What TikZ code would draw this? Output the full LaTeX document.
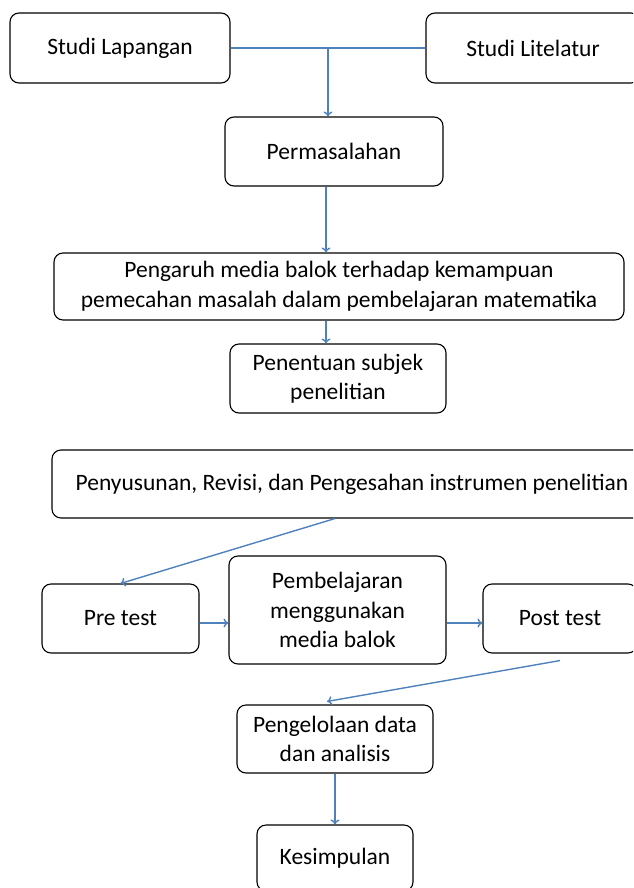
\documentclass[tikz,border=0pt]{standalone}
\usepackage{fontspec}
\setmainfont{Carlito}
\usetikzlibrary{arrows.meta}
\definecolor{arrowblue}{HTML}{4F81BD}
\begin{document}
\begin{tikzpicture}[x=1pt,y=-1pt,
  box/.style={draw=black, line width=1.1pt, rounded corners=9pt, align=center,
    font=\fontsize{23.5}{29.5}\selectfont, inner sep=0pt},
  conn/.style={draw=arrowblue, line width=1.4pt},
  arr/.style={conn, -{To[length=5pt,width=9pt]}}]
\useasboundingbox (0,0) rectangle (633,888);
\clip (0,0) rectangle (633,888);
\node[box, minimum width=220pt, minimum height=70pt] (lap) at (120,48) {Studi Lapangan};
\node[box, minimum width=214pt, minimum height=70pt] (lit) at (533,48) {Studi Litelatur};
\node[box, minimum width=218pt, minimum height=69pt] (perm) at (334,151.5) {Permasalahan};
\node[box, minimum width=570pt, minimum height=67pt] (peng) at (339,286.5) {Pengaruh media balok terhadap kemampuan\\pemecahan masalah dalam pembelajaran matematika};
\node[box, minimum width=216pt, minimum height=69pt] (pen) at (338,378.5) {Penentuan subjek\\penelitian};
\node[box, minimum width=600pt, minimum height=68pt] (pys) at (352,484) {Penyusunan, Revisi, dan Pengesahan instrumen penelitian};
\node[box, minimum width=157pt, minimum height=69pt] (pre) at (120.5,618.5) {Pre test};
\node[box, minimum width=217pt, minimum height=108pt] (pemb) at (337.5,610) {Pembelajaran\\menggunakan\\media balok};
\node[box, minimum width=154pt, minimum height=69pt] (post) at (560,618.5) {Post test};
\node[box, minimum width=196pt, minimum height=68pt] (pgl) at (335,739) {Pengelolaan data\\dan analisis};
\node[box, minimum width=156pt, minimum height=66pt] (kes) at (335,858) {Kesimpulan};
\coordinate (j) at (328,48);
\draw[conn] (lap.east) -- (lit.west);
\draw[arr] (j) -- (j |- perm.north);
\draw[arr] (perm.south -| 326,0) -- (peng.north -| 326,0);
\draw[arr] (peng.south -| 326,0) -- (pen.north -| 326,0);
\draw[arr] ([xshift=-17pt]pys.south) -- (pre.north);
\draw[arr] ([yshift=-4.5pt]pre.east) -- ([yshift=-4.5pt]pre.east -| pemb.west);
\draw[arr] ([yshift=-13pt]pemb.east) -- ([yshift=-4.5pt]post.west);
\draw[arr] ([yshift=-7pt]post.south) -- ([xshift=-8pt,yshift=3pt]pgl.north);
\draw[arr] (pgl.south) -- (kes.north);
\end{tikzpicture}
\end{document}
